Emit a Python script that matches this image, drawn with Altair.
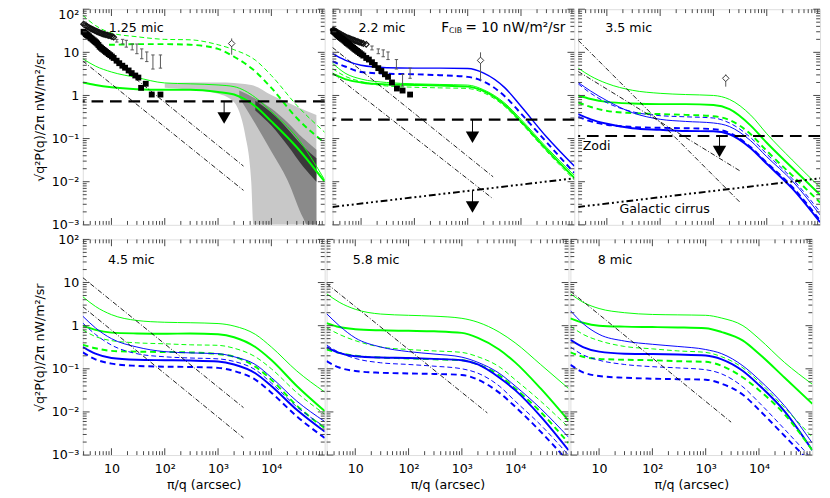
import altair as alt
import pandas as pd

FONT = "DejaVu Sans"
FRAME = "#444444"
GREEN = "#00ff00"
BLUE = "#0000ff"
W, H = 249, 222
XDOM = [2.9, 100000]
YDOM = [0.001, 100]

# common abscissa grid (pi/q, arcsec) at which curves were read
XG = [2.9, 5, 10, 30, 100, 300, 1000, 2000, 5000, 10000, 30000, 100000]

Y_MAJOR = [0.001, 0.01, 0.1, 1, 10, 100]
Y_LABELS = ["10⁻³", "10⁻²", "10⁻¹", "1", "10", "10²"]
X_MAJOR = [10, 100, 1000, 10000]
X_LABELS = ["10", "10²", "10³", "10⁴"]
Y_TITLE = "√q²P(q)/2π nW/m²/sr"
X_TITLE = "π/q (arcsec)"

# ---------------- panel 1 : 1.25 mic ----------------
p1_curves = {
    "g1d": [72, 42, 28, 23, 20, 19.5, 15, 11.5, 6.6, 2.9, 0.59, 0.14],
    "g1": [7.1, 4.8, 3.5, 2.6, 1.95, 1.86, 1.75, 1.6, 0.9, 0.42, 0.107, 0.011],
    "g2": [2.0, 1.75, 1.55, 1.4, 1.35, 1.35, 1.2, 1.05, 0.56, 0.25, 0.063, 0.01],
}
p1_g2d_x = [9, 10, 30, 100, 300, 1000, 2000, 5000, 10000, 30000, 100000]
p1_g2d_y = [15, 15, 15.5, 15.5, 15, 12, 7.9, 3.6, 1.5, 0.3, 0.08]
band_light_x = [100, 300, 1000, 2000, 2500, 3200, 4200, 4600, 10000, 30000, 70000]
band_light_hi = [1.9, 2.0, 2.0, 1.95, 1.9, 1.85, 1.75, 1.7, 1.02, 0.55, 0.35]
band_light_lo = [1.5, 1.35, 1.1, 0.7, 0.42, 0.13, 0.0096, 0.001, 0.001, 0.001, 0.001]
band_mid_x = [2500, 5000, 10000, 20000, 40000, 47000, 70000]
band_mid_hi = [1.3, 0.85, 0.5, 0.24, 0.1, 0.085, 0.055]
band_mid_lo = [0.9, 0.22, 0.05, 0.011, 0.0014, 0.001, 0.001]
band_dark_x = [5000, 10000, 20000, 40000, 70000]
band_dark_hi = [0.75, 0.4, 0.17, 0.065, 0.035]
band_dark_lo = [0.45, 0.2, 0.07, 0.022, 0.01]
p1_sq_x = [3.0, 3.15, 3.3, 3.45, 3.6, 3.8, 4.0, 4.2, 4.4, 4.65, 4.9, 5.15, 5.4, 5.7, 6.0, 6.35, 6.7, 7.1, 7.5,
           7.9, 8.4, 8.9, 9.5, 10.2, 11, 12.5, 14, 16, 18, 21, 24, 28, 32, 36, 44, 57, 83]
p1_sq_y = [30, 28.5, 27, 26, 25, 23.5, 22, 21, 20, 19, 18, 17, 16, 14.8, 13.5, 12.8, 12, 11.4, 10.8,
           10.2, 9.7, 9.1, 8.6, 8.0, 7.4, 6.4, 5.6, 4.9, 4.4, 3.8, 3.3, 2.9, 2.6, 1.5, 1.87, 1.05, 1.05]
p1_dm_x = [3.0, 3.15, 3.3, 3.45, 3.6, 3.8, 4.0, 4.2, 4.4, 4.65, 4.9, 5.15, 5.4, 5.7, 6.0, 6.35, 6.7, 7.1,
           7.5, 7.9, 8.4, 8.9, 9.5, 10.2, 11]
p1_dm_y = [45, 43.5, 42, 40.5, 39, 37.5, 36, 35, 34, 33, 32, 31, 30, 29.3, 28.5, 27.8, 27, 26.5,
           26, 25.5, 25, 24.5, 24, 23.3, 22.5]
p1_eb_x = [12.6, 16.2, 19, 24.5, 30, 37, 46, 60, 83]
p1_eb_lo = [17.3, 15.6, 13.2, 11.4, 9.3, 7.1, 6.1, 4.1, 4.3]
p1_eb_hi = [20, 20, 19, 15.6, 15.6, 12, 10.2, 8.7, 8.7]

# ---------------- panel 2 : 2.2 mic ----------------
p2_curves = {
    "b1": [9.3, 6.6, 5.0, 4.4, 4.3, 4.3, 4.2, 3.3, 1.5, 0.56, 0.11, 0.023],
    "b2d": [6.2, 4.7, 3.5, 3.2, 3.1, 2.95, 2.7, 2.1, 0.95, 0.38, 0.083, 0.016],
    "g1": [5.6, 3.3, 2.4, 2.0, 1.86, 1.8, 1.74, 1.35, 0.66, 0.28, 0.063, 0.014],
    "g2": [3.2, 2.4, 2.0, 1.8, 1.75, 1.7, 1.6, 1.26, 0.6, 0.25, 0.056, 0.0123],
    "g1d": [4.2, 2.8, 2.1, 1.66, 1.55, 1.5, 1.45, 1.15, 0.55, 0.23, 0.051, 0.011],
}
p2_sq_x = [3.0, 3.15, 3.3, 3.45, 3.6, 3.8, 4.0, 4.2, 4.4, 4.65, 4.9, 5.15, 5.4, 5.7, 6.0, 6.35, 6.7, 7.1, 7.5,
           7.9, 8.4, 8.9, 9.5, 10.2, 11, 12.5, 14, 16, 18, 21, 24, 28, 32, 38, 47, 60, 83]
p2_sq_y = [31, 29.5, 28, 26.5, 25, 23.8, 22.5, 21.5, 20.5, 19.5, 18.5, 17.5, 16.5, 15.8, 15, 14.2, 13.5,
           12.7, 12, 11.4, 10.8, 10.2, 9.6, 9.0, 8.4, 7.4, 6.8, 5.9, 5.1, 4.3, 3.7, 3.1, 2.7, 2.0, 1.45, 1.3, 1.05]
p2_dm_x = [3.0, 3.15, 3.3, 3.45, 3.6, 3.8, 4.0, 4.2, 4.4, 4.65, 4.9, 5.15, 5.4, 5.7, 6.0, 6.35, 6.7, 7.1,
           7.5, 7.9, 8.4, 8.9, 9.5, 10.2, 11, 12.5]
p2_dm_y = [33, 32, 31, 30, 29, 28, 27, 26, 25, 24.2, 23.5, 22.7, 22, 21.5, 21, 20.5, 20, 19.5,
           19, 18.5, 18, 17.5, 17, 16.5, 16, 15.3]
p2_eb_x = [16, 21, 26, 32, 46, 60, 83]
p2_eb_lo = [11.4, 9.3, 7.9, 6.8, 4.1, 1.66, 2.5]
p2_eb_hi = [14, 12, 11.4, 10.2, 6.8, 3.1, 4.3]

# ---------------- panel 3 : 3.5 mic ----------------
p3_curves = {
    "g1": [4.3, 2.8, 1.9, 1.32, 1.12, 1.05, 1.0, 0.81, 0.35, 0.13, 0.032, 0.0074],
    "g2": [1.0, 0.83, 0.71, 0.65, 0.63, 0.63, 0.6, 0.48, 0.2, 0.08, 0.021, 0.005],
    "g2d": [0.69, 0.54, 0.44, 0.39, 0.37, 0.355, 0.33, 0.27, 0.126, 0.052, 0.014, 0.0033],
    "b1": [2.0, 1.26, 0.76, 0.4, 0.28, 0.25, 0.23, 0.19, 0.089, 0.038, 0.0105, 0.0017],
    "b1d": [1.86, 1.12, 0.68, 0.42, 0.34, 0.32, 0.3, 0.23, 0.105, 0.044, 0.0118, 0.002],
    "b2": [0.37, 0.28, 0.22, 0.174, 0.16, 0.15, 0.148, 0.126, 0.06, 0.026, 0.007, 0.00115],
    "b2d": [0.32, 0.25, 0.21, 0.186, 0.178, 0.174, 0.166, 0.135, 0.063, 0.0275, 0.0076, 0.00126],
}

# ---------------- panel 4 : 4.5 mic ----------------
p4_curves = {
    "g1": [4.7, 2.8, 1.8, 1.32, 1.2, 1.17, 1.12, 0.98, 0.63, 0.32, 0.089, 0.029],
    "g2": [1.0, 0.8, 0.69, 0.66, 0.65, 0.66, 0.63, 0.54, 0.32, 0.16, 0.04, 0.0105],
    "g1d": [0.8, 0.56, 0.45, 0.4, 0.38, 0.36, 0.35, 0.3, 0.19, 0.1, 0.028, 0.0089],
    "g2d": [0.36, 0.3, 0.26, 0.25, 0.245, 0.24, 0.22, 0.19, 0.112, 0.056, 0.014, 0.0042],
    "b1": [1.66, 0.89, 0.5, 0.32, 0.25, 0.234, 0.224, 0.19, 0.126, 0.063, 0.0178, 0.006],
    "b1d": [1.15, 0.63, 0.355, 0.224, 0.19, 0.178, 0.17, 0.148, 0.095, 0.047, 0.0132, 0.0045],
    "b2": [0.32, 0.224, 0.178, 0.162, 0.158, 0.155, 0.148, 0.126, 0.079, 0.04, 0.0112, 0.0035],
    "b2d": [0.24, 0.166, 0.132, 0.117, 0.112, 0.11, 0.105, 0.089, 0.056, 0.028, 0.0079, 0.0025],
}

# ---------------- panel 5 : 5.8 mic ----------------
p5_curves = {
    "g1": [5.5, 3.5, 2.4, 1.86, 1.74, 1.66, 1.48, 1.2, 0.71, 0.4, 0.126, 0.035],
    "g2": [1.15, 0.93, 0.83, 0.78, 0.76, 0.74, 0.68, 0.52, 0.28, 0.141, 0.035, 0.0063],
    "g1d": [0.89, 0.63, 0.45, 0.32, 0.28, 0.26, 0.24, 0.19, 0.112, 0.056, 0.0178, 0.0044],
    "g2d": [0.28, 0.234, 0.2, 0.182, 0.174, 0.166, 0.158, 0.126, 0.071, 0.035, 0.01, 0.0019],
    "b1": [1.9, 1.0, 0.52, 0.32, 0.25, 0.22, 0.186, 0.141, 0.079, 0.04, 0.012, 0.0026],
    "b2": [0.32, 0.234, 0.195, 0.182, 0.178, 0.17, 0.158, 0.126, 0.063, 0.032, 0.0079, 0.0013],
    "b1d": [0.355, 0.24, 0.174, 0.138, 0.126, 0.115, 0.1, 0.079, 0.04, 0.0178, 0.005, 0.001],
    "b2d": [0.15, 0.107, 0.089, 0.081, 0.078, 0.076, 0.072, 0.056, 0.028, 0.0132, 0.0035, 0.0007],
}

# ---------------- panel 6 : 8 mic ----------------
p6_curves = {
    "g1": [5.5, 3.5, 2.5, 2.0, 1.82, 1.78, 1.74, 1.5, 1.0, 0.5, 0.141, 0.044],
    "g2": [1.48, 1.17, 1.0, 0.95, 0.93, 0.91, 0.87, 0.71, 0.45, 0.224, 0.063, 0.0155],
    "b1": [2.24, 1.12, 0.63, 0.44, 0.37, 0.33, 0.28, 0.224, 0.117, 0.056, 0.014, 0.0019],
    "b2": [0.47, 0.32, 0.25, 0.224, 0.22, 0.214, 0.204, 0.166, 0.089, 0.042, 0.0105, 0.0013],
    "g1d": [0.98, 0.63, 0.45, 0.33, 0.29, 0.26, 0.24, 0.19, 0.105, 0.05, 0.0126, 0.0026],
    "g2d": [0.24, 0.19, 0.17, 0.162, 0.158, 0.15, 0.145, 0.117, 0.063, 0.032, 0.0089, 0.0013],
    "b1d": [0.32, 0.21, 0.158, 0.126, 0.112, 0.105, 0.095, 0.076, 0.038, 0.0166, 0.004, 0.0008],
    "b2d": [0.123, 0.083, 0.068, 0.062, 0.059, 0.0575, 0.056, 0.045, 0.025, 0.0112, 0.0028, 0.0006],
}

# straight dash-dot model lines: (x0, y0, x1, y1)
dashdot = {
    1: [(2.9, 6.3, 3000, 0.0063), (2.9, 24, 3000, 0.023)],
    2: [(2.9, 13, 3000, 0.013), (2.9, 3.3, 3000, 0.004)],
    3: [(2.9, 19, 3100, 0.0034), (2.9, 3.6, 3100, 0.018)],
    4: [(2.9, 13, 3000, 0.0126), (2.9, 2.75, 3000, 0.0025)],
    5: [(2.9, 9.5, 3000, 0.0095)],
    6: [(2.9, 6.3, 3000, 0.0058)],
}
cirrus = (2.9, 0.0026, 100000, 0.012)
noise_level = {1: 0.73, 2: 0.275, 3: 0.115}
# upper limits: (x, y_from, y_triangle)
limits = {1: [(1300, 0.73, 0.3)], 2: [(1230, 0.275, 0.107), (1230, 0.0063, 0.0026)], 3: [(1300, 0.115, 0.05)]}
# single open diamond with error bar: (x, y, lo, hi)
diamond = {1: (1800, 16, 8.8, 21), 2: (1740, 6.5, 2.2, 10), 3: (1700, 2.5, 1.6, 3.1)}

STYLE = {
    "g1": (GREEN, 1.0, None), "g2": (GREEN, 2.0, None),
    "g1d": (GREEN, 1.0, [5, 3]), "g2d": (GREEN, 2.0, [6, 4]),
    "b1": (BLUE, 1.0, None), "b2": (BLUE, 2.0, None),
    "b1d": (BLUE, 1.0, [5, 3]), "b2d": (BLUE, 2.0, [6, 4]),
}


def expr_from(values, labels):
    s = "'" + labels[-1] + "'"
    for v, l in reversed(list(zip(values[:-1], labels[:-1]))):
        s = "datum.value < %g ? '%s' : %s" % (v * 3.0, l, s)
    return s


def make_panel(num, left, bottom, curves, texts):
    yaxis = None
    xaxis = None
    if left:
        base = {"condition": {"test": "datum.value > 50", "value": "top"}, "value": "middle"} \
            if not bottom else "middle"
        yaxis = alt.Axis(values=Y_MAJOR, labelExpr=expr_from(Y_MAJOR, Y_LABELS), ticks=False, domain=False,
                         grid=False, labelPadding=4, labelFont=FONT, labelFontSize=13, labelColor="black",
                         labelBaseline=base,
                         labelOverlap=False, labelFlush=False, title=Y_TITLE, titleFont=FONT, titleFontSize=13,
                         titleFontWeight="normal", titlePadding=5, titleColor="black")
    if bottom:
        xaxis = alt.Axis(values=X_MAJOR, labelExpr=expr_from(X_MAJOR, X_LABELS), ticks=False, domain=False,
                         grid=False, labelPadding=8, labelFont=FONT, labelFontSize=13, labelColor="black",
                         labelOverlap=False, labelFlush=False, title=X_TITLE, titleFont=FONT, titleFontSize=13,
                         titleFontWeight="normal", titlePadding=3, titleColor="black")
    xs = alt.Scale(type="log", domain=XDOM)
    ys = alt.Scale(type="log", domain=YDOM)

    def X(f="x"):
        return alt.X(f + ":Q", scale=xs, axis=xaxis)

    def Y(f="y"):
        return alt.Y(f + ":Q", scale=ys, axis=yaxis)

    layers = []
    # shaded bands (panel 1)
    if num == 1:
        for bx, lo, hi, col in [(band_light_x, band_light_lo, band_light_hi, "#c8c8c8"),
                                (band_mid_x, band_mid_lo, band_mid_hi, "#8a8a8a"),
                                (band_dark_x, band_dark_lo, band_dark_hi, "#3a3a3a")]:
            df = pd.DataFrame({"x": bx, "y": hi, "y2": lo})
            layers.append(alt.Chart(df).mark_area(color=col, clip=True, interpolate="monotone", opacity=1)
                          .encode(x=X(), y=Y(), y2="y2:Q"))
    # model curves
    for key, yv in curves.items():
        col, sw, dash = STYLE[key]
        if num == 2 and key == "b1":
            sw = 1.5
        kw = dict(color=col, strokeWidth=sw, clip=True, interpolate="monotone")
        if dash:
            kw["strokeDash"] = dash
        df = pd.DataFrame({"x": XG, "y": yv})
        layers.append(alt.Chart(df).mark_line(**kw).encode(x=X(), y=Y()))
    if num == 1:
        df = pd.DataFrame({"x": p1_g2d_x, "y": p1_g2d_y})
        layers.append(alt.Chart(df).mark_line(color=GREEN, strokeWidth=2, strokeDash=[6, 4], clip=True,
                                              interpolate="monotone").encode(x=X(), y=Y()))
    # dash-dot lines
    for (x0, y0, x1, y1) in dashdot[num]:
        df = pd.DataFrame({"x": [x0, x1], "y": [y0, y1]})
        layers.append(alt.Chart(df).mark_line(color="black", strokeWidth=0.9, strokeDash=[5, 2, 1, 2], clip=True)
                      .encode(x=X(), y=Y()))
    if num in (2, 3):
        df = pd.DataFrame({"x": [cirrus[0], cirrus[2]], "y": [cirrus[1], cirrus[3]]})
        layers.append(alt.Chart(df).mark_line(color="black", strokeWidth=2, strokeDash=[7, 3, 2, 3, 2, 3, 2, 3],
                                              clip=True).encode(x=X(), y=Y()))
    if num in noise_level:
        df = pd.DataFrame({"y": [noise_level[num]]})
        layers.append(alt.Chart(df).mark_rule(color="black", strokeWidth=2.2, strokeDash=[12, 7]).encode(y=Y()))
        lim = limits[num]
        df = pd.DataFrame({"x": [l[0] for l in lim], "y": [l[1] for l in lim], "y2": [l[2] for l in lim]})
        layers.append(alt.Chart(df).mark_rule(color="black", strokeWidth=1).encode(x=X(), y=Y(), y2="y2:Q"))
        df2 = pd.DataFrame({"x": [l[0] for l in lim], "y": [l[2] for l in lim]})
        layers.append(alt.Chart(df2).mark_point(shape="triangle-down", filled=True, color="black", size=190,
                                                opacity=1).encode(x=X(), y=Y()))
        d = diamond[num]
        df = pd.DataFrame({"x": [d[0]], "y": [d[2]], "y2": [d[3]]})
        layers.append(alt.Chart(df).mark_rule(color="#555555", strokeWidth=1).encode(x=X(), y=Y(), y2="y2:Q"))
        df = pd.DataFrame({"x": [d[0]], "y": [d[1]]})
        layers.append(alt.Chart(df).mark_point(shape="diamond", filled=True, fill="white", stroke="#333333",
                                               strokeWidth=1, size=45, opacity=1).encode(x=X(), y=Y()))
    # data points (panels 1, 2)
    if num in (1, 2):
        sqx, sqy = (p1_sq_x, p1_sq_y) if num == 1 else (p2_sq_x, p2_sq_y)
        dmx, dmy = (p1_dm_x, p1_dm_y) if num == 1 else (p2_dm_x, p2_dm_y)
        ebx, eblo, ebhi = (p1_eb_x, p1_eb_lo, p1_eb_hi) if num == 1 else (p2_eb_x, p2_eb_lo, p2_eb_hi)
        df = pd.DataFrame({"x": ebx, "y": eblo, "y2": ebhi})
        layers.append(alt.Chart(df).mark_rule(color="#555555", strokeWidth=1).encode(x=X(), y=Y(), y2="y2:Q"))
        cap = "M-1,0L1,0"
        layers.append(alt.Chart(df).mark_point(shape=cap, color="#555555", size=12, strokeWidth=1, opacity=1)
                      .encode(x=X(), y=Y()))
        layers.append(alt.Chart(df).mark_point(shape=cap, color="#555555", size=12, strokeWidth=1, opacity=1)
                      .encode(x=X(), y=Y("y2")))
        df = pd.DataFrame({"x": dmx, "y": dmy})
        layers.append(alt.Chart(df).mark_point(shape="diamond", filled=False, color="#111111", size=34,
                                               strokeWidth=1.2, opacity=1).encode(x=X(), y=Y()))
        df = pd.DataFrame({"x": sqx, "y": sqy})
        layers.append(alt.Chart(df).mark_square(color="black", size=36, opacity=1).encode(x=X(), y=Y()))
    # inward ticks on four sides
    y_minor = [m * d for d in [0.001, 0.01, 0.1, 1, 10] for m in range(2, 10)]
    x_minor = [m * d for d in [1, 10, 100, 1000, 10000] for m in range(2, 10) if XDOM[0] < m * d < XDOM[1]]
    for vals, ln in [(Y_MAJOR, 7), (y_minor, 4)]:
        df = pd.DataFrame({"y": vals})
        layers.append(alt.Chart(df).mark_rule(color=FRAME, strokeWidth=1).encode(
            y=Y(), x=alt.value(0), x2=alt.value(ln)))
        layers.append(alt.Chart(df).mark_rule(color=FRAME, strokeWidth=1).encode(
            y=Y(), x=alt.value(W - ln), x2=alt.value(W)))
    for vals, ln in [(X_MAJOR, 7), (x_minor, 4)]:
        df = pd.DataFrame({"x": vals})
        layers.append(alt.Chart(df).mark_rule(color=FRAME, strokeWidth=1).encode(
            x=X(), y=alt.value(0), y2=alt.value(ln)))
        layers.append(alt.Chart(df).mark_rule(color=FRAME, strokeWidth=1).encode(
            x=X(), y=alt.value(H - ln), y2=alt.value(H)))
    # annotations
    for t, tx, ty, fs, al in texts:
        df = pd.DataFrame({"t": [t]})
        layers.append(alt.Chart(df).mark_text(font=FONT, fontSize=fs, color="black", align=al, baseline="middle")
                      .encode(text="t:N", x=alt.value(tx), y=alt.value(ty)))
    return alt.layer(*layers).properties(width=W, height=H)


p1 = make_panel(1, True, False, p1_curves, [("1.25 mic", 55, 19, 13, "center")])
p2 = make_panel(2, False, False, p2_curves, [("2.2 mic", 51, 19, 13, "center"), ("F", 112, 19, 14, "left"),
                                             ("CIB", 120, 23, 8, "left"),
                                             ("= 10 nW/m²/sr", 137, 19, 14, "left")])
p3 = make_panel(3, False, False, p3_curves, [("3.5 mic", 52, 19, 13, "center"), ("Zodi", 19, 141, 13, "center"),
                                             ("Galactic cirrus", 89, 206, 13, "center")])
p4 = make_panel(4, True, True, p4_curves, [("4.5 mic", 50, 21, 13, "center")])
p5 = make_panel(5, False, True, p5_curves, [("5.8 mic", 51, 21, 13, "center")])
p6 = make_panel(6, False, True, p6_curves, [("8 mic", 46, 21, 13, "center")])

row1 = alt.hconcat(p1, p2, p3, spacing=0)
row2 = alt.hconcat(p4, p5, p6, spacing=0)
chart = alt.vconcat(row1, row2, spacing=0).properties(
    padding={"left": 25, "top": -7, "right": 0, "bottom": 0}
).configure_view(stroke=FRAME, strokeWidth=1.2).configure(background="white")

chart.save("out.html", embed_options={"renderer": "svg", "actions": False})
